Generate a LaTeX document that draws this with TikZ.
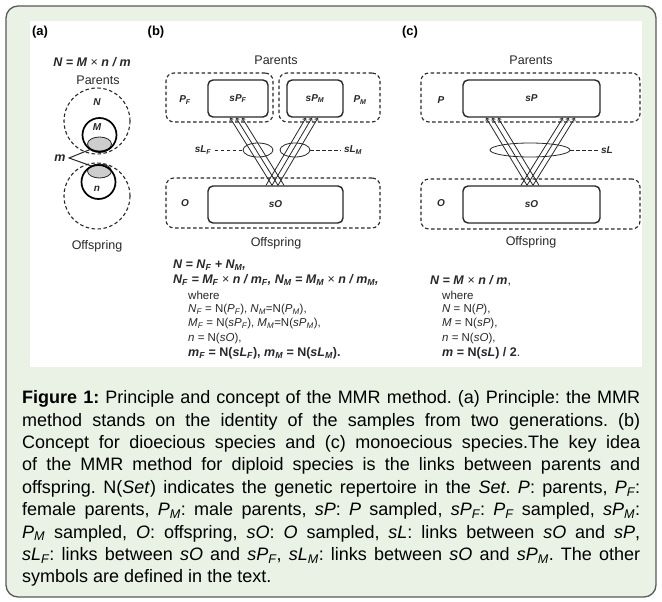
\documentclass[tikz,border=0pt]{standalone}
\usepackage{fontspec}
\setmainfont{Liberation Sans}
\usetikzlibrary{arrows.meta,shapes.geometric}
\definecolor{capbg}{RGB}{233,242,229}
\definecolor{framegray}{RGB}{90,90,90}
\definecolor{inkgray}{RGB}{40,40,40}
\definecolor{blobgray}{RGB}{205,205,205}
\newcommand{\bi}[1]{\textbf{\textit{#1}}}
\newcommand{\lo}[1]{\textsubscript{#1}}

\begin{document}
\begin{tikzpicture}[x=1pt, y=-1pt,
    poolbox/.style={draw=inkgray, dash pattern=on 3.5pt off 2.5pt, line width=1.1pt, rounded corners=8pt, inner sep=0pt},
    sampbox/.style={draw=inkgray, line width=1.4pt, rounded corners=5pt, inner sep=0pt, font=\fontsize{10}{12}\selectfont\bfseries\itshape, text=inkgray},
    poolring/.style={circle, draw=inkgray, dash pattern=on 3.5pt off 2.5pt, line width=1.1pt, inner sep=0pt, minimum size=66pt},
    sampring/.style={circle, draw=black, line width=1.7pt, inner sep=0pt, minimum size=34pt},
    blob/.style={ellipse, draw=inkgray, fill=blobgray, line width=0.8pt, inner sep=0pt, minimum width=24pt, minimum height=14pt},
    boxlab/.style={font=\fontsize{10}{12}\selectfont\bfseries\itshape, text=inkgray},
    head/.style={font=\fontsize{12.5}{14}\selectfont, text=inkgray},
    formula/.style={font=\fontsize{12.5}{14}\selectfont, text=inkgray},
    panel/.style={font=\fontsize{13}{15}\selectfont\bfseries, text=black},
    eqn/.style={font=\fontsize{11.5}{13}\selectfont, text=inkgray, anchor=west, inner sep=0pt},
    boldeqn/.style={eqn, font=\fontsize{12.5}{14}\selectfont},
    link/.style={draw=inkgray, line width=0.8pt, -{Straight Barb[length=2.5pt,width=4pt]}},
    linkset/.style={ellipse, draw=inkgray, line width=0.8pt, inner sep=0pt, minimum height=14pt},
    pointer/.style={draw=inkgray, dash pattern=on 3.5pt off 2.5pt, line width=1pt}]
    \useasboundingbox (0,0) rectangle (662,602);
    % Frame
    \fill[white] (0,0) rectangle (662,602);
    \draw[framegray, line width=1.3pt, fill=capbg, rounded corners=12pt] (6,6) rectangle (656,597);
    \fill[white] (30,21) rectangle (642,367);

    % (a) principle
    \node[panel] (labA) at (40,32) {(a)};
    \node[formula] (eqA) at (92,62) {\bi{N = M} × \bi{n / m}};
    \node[head] (parA) at (98,80) {Parents};
    \node[blob] (mUp) at (99.5,144) {};
    \node[blob] (mLow) at (99.5,171) {};
    \node[poolring] (Npool) at (97,121) {};
    \node[poolring] (nPool) at (97,196) {};
    \node[sampring] (Mring) at (99.5,135) {};
    \node[sampring] (nRing) at (98.5,182) {};
    \node[boxlab] (Nlab) at (97,102) {N};
    \node[boxlab] (Mlab) at (97,127) {M};
    \node[boxlab] (nlab) at (97,189) {n};
    \node[formula] (mlab) at (60,158) {\bi{m}};
    \draw[inkgray, line width=1pt] (mUp.south west) -- (mlab.east) -- (mLow.north west);
    \node[head] (offA) at (97,246) {Offspring};

    % (b) dioecious species
    \node[panel] (labB) at (156,32) {(b)};
    \node[head] (parB) at (276,60) {Parents};
    \node[poolbox, minimum width=107pt, minimum height=49pt] (bPF) at (219.5,97.5) {};
    \node[poolbox, minimum width=101pt, minimum height=49pt] (bPM) at (329.5,97.5) {};
    \node[sampbox, minimum width=60pt, minimum height=37pt] (bsPF) at (238,98.5) {sP\lo{F}};
    \node[sampbox, minimum width=56pt, minimum height=37pt] (bsPM) at (315,98.5) {sP\lo{M}};
    \node[boxlab] (bPFl) at (185,100) {P\lo{F}};
    \node[boxlab] (bPMl) at (360,100) {P\lo{M}};
    \node[poolbox, minimum width=214pt, minimum height=50pt] (bO) at (273,203) {};
    \node[sampbox, minimum width=135pt, minimum height=37pt] (bsO) at (275.5,204.5) {sO};
    \node[boxlab] (bOl) at (185,203) {O};
    \node[head] (offB) at (276,243) {Offspring};
    \foreach \bx/\tx in {-3.5/-8, 2.5/-2, 8.5/4}
        \draw[link] ([xshift=\bx pt]bsO.north) -- ([xshift=\tx pt]bsPF.south);
    \foreach \bx/\tx in {-9.5/-9, -3.5/-3, 2.5/3}
        \draw[link] ([xshift=\bx pt]bsO.north) -- ([xshift=\tx pt]bsPM.south);
    \node[linkset, minimum width=30pt] (bsLF) at (258,150) {};
    \node[linkset, minimum width=30pt] (bsLM) at (295,150) {};
    \node[boxlab] (bsLFl) at (203,150) {sL\lo{F}};
    \node[boxlab] (bsLMl) at (353,150) {sL\lo{M}};
    \draw[pointer] (bsLFl) -- (bsLF.west);
    \draw[pointer] (bsLM.east) -- (bsLMl);

    % (c) monoecious species
    \node[panel] (labC) at (410,32) {(c)};
    \node[head] (parC) at (531,60) {Parents};
    \node[poolbox, minimum width=219pt, minimum height=49pt] (cP) at (530.5,97.5) {};
    \node[sampbox, minimum width=137pt, minimum height=37pt] (csP) at (531.5,98.5) {sP};
    \node[boxlab] (cPl) at (441,100) {P};
    \node[poolbox, minimum width=219pt, minimum height=50pt] (cO) at (530.5,204) {};
    \node[sampbox, minimum width=137pt, minimum height=37pt] (csO) at (531.5,204.5) {sO};
    \node[boxlab] (cOl) at (441,203) {O};
    \node[head] (offC) at (531,242) {Offspring};
    \foreach \bx/\tx in {-4.5/-45.5, 1.5/-39.5, 7.5/-33.5}
        \draw[link] ([xshift=\bx pt]csO.north) -- ([xshift=\tx pt]csP.south);
    \foreach \bx/\tx in {-10.5/31.5, -4.5/37.5, 1.5/43.5}
        \draw[link] ([xshift=\bx pt]csO.north) -- ([xshift=\tx pt]csP.south);
    \node[linkset, minimum width=80pt] (csL) at (530,150) {};
    \node[boxlab] (csLl) at (607,150) {sL};
    \draw[pointer] (csL.east) -- (csLl);

    % Formulas (b)
    \node[boldeqn] (fb1) at (173,265) {\bi{N = N\lo{F} + N\lo{M},}};
    \node[boldeqn] (fb2) at (173,280) {\bi{N\lo{F} = M\lo{F}} × \bi{n / m\lo{F}, N\lo{M} = M\lo{M}} × \bi{n / m\lo{M},}};
    \node[eqn] (fb3) at (188,295.5) {where};
    \node[eqn] (fb4) at (188,310) {\textit{N\lo{F}} = N(\textit{P\lo{F}}), \textit{N\lo{M}}=N(\textit{P\lo{M}}),};
    \node[eqn] (fb5) at (188,324) {\textit{M\lo{F}} = N(\textit{sP\lo{F}}), \textit{M\lo{M}}=N(\textit{sP\lo{M}}),};
    \node[eqn] (fb6) at (188,338.5) {\textit{n} = N(\textit{sO}),};
    \node[boldeqn] (fb7) at (188,353) {\textbf{\textit{m\lo{F}} = N(\textit{sL\lo{F}}), \textit{m\lo{M}} = N(\textit{sL\lo{M}}).}};
    % Formulas (c)
    \node[boldeqn] (fc1) at (430,281) {\bi{N = M} × \bi{n / m},};
    \node[eqn] (fc2) at (442,295.5) {where};
    \node[eqn] (fc3) at (442,310) {\textit{N} = N(\textit{P}),};
    \node[eqn] (fc4) at (442,324) {\textit{M} = N(\textit{sP}),};
    \node[eqn] (fc5) at (442,338.5) {\textit{n} = N(\textit{sO}),};
    \node[boldeqn] (fc6) at (442,353) {\textbf{\textit{m} = N(\textit{sL}) / 2}.};

    % Caption
    \node[anchor=north west, inner sep=0pt, text width=618pt, align=justify, text=black,
          font=\fontsize{18}{22.4}\selectfont] (caption) at (22,390.5)
        {\tolerance=10000\frenchspacing
         \textbf{Figure 1:} Principle and concept of the MMR method. (a) Principle: the MMR\linebreak
         method stands on the identity of the samples from two generations. (b)\linebreak
         Concept for dioecious species and (c) monoecious species.The key idea\linebreak
         of the MMR method for diploid species is the links between parents and\linebreak
         offspring. N(\textit{Set}) indicates the genetic repertoire in the \textit{Set}. \textit{P}: parents, \textit{P\lo{F}}:\linebreak
         female parents, \textit{P\lo{M}}: male parents, \textit{sP}: \textit{P} sampled, \textit{sP\lo{F}}: \textit{P\lo{F}} sampled, \textit{sP\lo{M}}:\linebreak
         \textit{P\lo{M}} sampled, \textit{O}: offspring, \textit{sO}: \textit{O} sampled, \textit{sL}: links between \textit{sO} and \textit{sP},\linebreak
         \textit{sL\lo{F}}: links between \textit{sO} and \textit{sP\lo{F}}, \textit{sL\lo{M}}: links between \textit{sO} and \textit{sP\lo{M}}. The other\linebreak
         symbols are defined in the text.};
\end{tikzpicture}
\end{document}
